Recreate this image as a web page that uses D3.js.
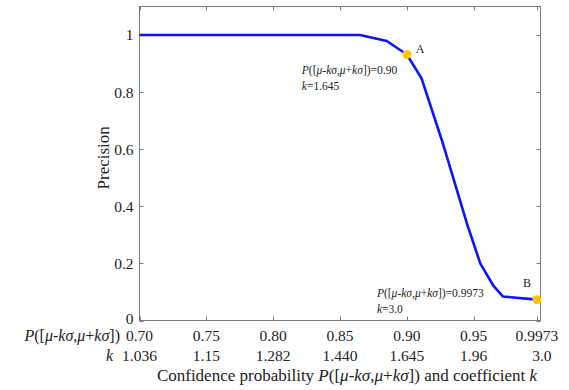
<!DOCTYPE html>
<html>
<head>
<meta charset="utf-8">
<script src="https://cdn.jsdelivr.net/npm/d3@7"></script>
<style>
    body { margin: 0; background: #fff; }
    svg { display: block; font-family: "Liberation Serif", "Times New Roman", serif; }
</style>
</head>
<body>
<svg id="chart" width="569" height="390"></svg>
<script>
// Chart data
const probTicks = [0.70, 0.75, 0.80, 0.85, 0.90, 0.95, 0.9973];
const probLabels = ["0.70", "0.75", "0.80", "0.85", "0.90", "0.95", "0.9973"];
const kLabels = ["1.036", "1.15", "1.282", "1.440", "1.645", "1.96", "3.0"];
const yTicks = [0, 0.2, 0.4, 0.6, 0.8, 1];

const probability = [0.70, 0.75, 0.80, 0.85, 0.865, 0.885, 0.90, 0.911, 0.927, 0.945, 0.955, 0.965, 0.972, 0.9973];
const precision = [1, 1, 1, 1, 1, 0.979, 0.932, 0.848, 0.62, 0.339, 0.199, 0.12, 0.084, 0.073];

const markPoints = [
    { name: "A", p: 0.90, v: 0.932, text: "0.90", k: "1.645" },
    { name: "B", p: 0.9973, v: 0.073, text: "0.9973", k: "3.0" }
];

// italic / upright pieces of P([mu-k sigma, mu+k sigma])
const probExpr = [["P", true], ["([", false], ["μ", true], ["-", false], ["kσ", true], [",", false],
    ["μ", true], ["+", false], ["kσ", true], ["])", false]];

function addRich(sel, parts) {
    parts.forEach(([t, it]) => {
        sel.append("tspan").attr("font-style", it ? "italic" : "normal").text(t);
    });
    return sel;
}

function drawChart() {
    const svg = d3.select("#chart");
    const axisColor = "#7a7a7a";

    const x = d3.scaleLinear().domain([0.7, 1.0]).range([139.5, 540.5]);
    const y = d3.scaleLinear().domain([0, 1.1]).range([320.5, 6.5]);

    const [x0, x1] = x.range();
    const [y0, y1] = y.range();

    // frame
    svg.append("rect")
        .attr("x", x0).attr("y", y1)
        .attr("width", x1 - x0).attr("height", y0 - y1)
        .attr("fill", "none")
        .attr("stroke", axisColor)
        .attr("stroke-width", 1);

    // inward ticks on all four sides
    const tickLen = 4;
    const g = svg.append("g").attr("stroke", axisColor).attr("stroke-width", 1);
    probTicks.forEach(p => {
        const px = Math.round(x(p)) + 0.5;
        g.append("line").attr("x1", px).attr("x2", px).attr("y1", y0).attr("y2", y0 - tickLen);
        g.append("line").attr("x1", px).attr("x2", px).attr("y1", y1).attr("y2", y1 + tickLen);
    });
    yTicks.forEach(v => {
        const py = Math.round(y(v)) + 0.5;
        g.append("line").attr("x1", x0).attr("x2", x0 + tickLen).attr("y1", py).attr("y2", py);
        g.append("line").attr("x1", x1).attr("x2", x1 - tickLen).attr("y1", py).attr("y2", py);
    });

    // y tick labels
    svg.append("g").selectAll("text")
        .data(yTicks)
        .join("text")
        .attr("x", x0 - 6)
        .attr("y", d => y(d))
        .attr("dy", d => d === 0 ? "0.2em" : "0.35em")
        .attr("text-anchor", "end")
        .style("font-size", "15.5px")
        .attr("fill", "#222")
        .text(d => d3.format("")(+d.toFixed(1)));

    // x tick labels, two rows
    const row1 = 341, row2 = 360.5;
    svg.append("g").selectAll("text")
        .data(probTicks)
        .join("text")
        .attr("x", d => x(d))
        .attr("y", row1)
        .attr("text-anchor", "middle")
        .style("font-size", "15.5px")
        .attr("fill", "#222")
        .text((d, i) => probLabels[i]);

    svg.append("g").selectAll("text")
        .data(probTicks)
        .join("text")
        .attr("x", (d, i) => x(d) + (i === probTicks.length - 1 ? 5 : 0))
        .attr("y", row2)
        .attr("text-anchor", "middle")
        .style("font-size", "15.5px")
        .attr("fill", "#222")
        .text((d, i) => kLabels[i]);

    // row names
    addRich(svg.append("text")
        .attr("x", 120).attr("y", row1)
        .attr("text-anchor", "end")
        .style("font-size", "16px")
        .attr("fill", "#222"), probExpr);

    svg.append("text")
        .attr("x", 113).attr("y", row2)
        .attr("text-anchor", "end")
        .style("font-size", "16px")
        .style("font-style", "italic")
        .attr("fill", "#222")
        .text("k");

    // x axis title
    const title = svg.append("text")
        .attr("x", 347).attr("y", 380.5)
        .attr("text-anchor", "middle")
        .style("font-size", "17px")
        .attr("fill", "#222");
    addRich(title, [["Confidence probability ", false]].concat(probExpr, [[" and coefficient ", false], ["k", true]]));

    // y axis title
    svg.append("text")
        .attr("transform", `translate(109,${y(0.57)}) rotate(-90)`)
        .attr("text-anchor", "middle")
        .style("font-size", "17px")
        .attr("fill", "#222")
        .text("Precision");

    // curve
    const pts = probability.map((p, i) => [p, precision[i]]);
    svg.append("path")
        .datum(pts)
        .attr("fill", "none")
        .attr("stroke", "#0a14ff")
        .attr("stroke-width", 2.6)
        .attr("stroke-linejoin", "round")
        .attr("d", d3.line().x(d => x(d[0])).y(d => y(d[1])));

    // marked points
    svg.append("g").selectAll("circle")
        .data(markPoints)
        .join("circle")
        .attr("cx", d => x(d.p))
        .attr("cy", d => y(d.v))
        .attr("r", 4.5)
        .attr("fill", "#ffc20e");

    // annotations
    const notes = [
        { pt: markPoints[0], lx: 9, ly: -6, tx: -105, ty: 16 },
        { pt: markPoints[1], lx: -14, ly: -17, tx: -160, ty: -6.5 }
    ];
    notes.forEach(n => {
        const px = x(n.pt.p), py = y(n.pt.v);
        svg.append("text")
            .attr("x", px + n.lx).attr("y", py + n.ly).attr("dy", "0.35em")
            .style("font-size", "12px").attr("fill", "#222")
            .text(n.pt.name);
        const t1 = svg.append("text")
            .attr("x", px + n.tx).attr("y", py + n.ty).attr("dy", "0.35em")
            .style("font-size", "11.5px").attr("fill", "#222");
        addRich(t1, probExpr.concat([["=" + n.pt.text, false]]));
        const t2 = svg.append("text")
            .attr("x", px + n.tx).attr("y", py + n.ty + 16).attr("dy", "0.35em")
            .style("font-size", "11.5px").attr("fill", "#222");
        addRich(t2, [["k", true], ["=" + n.pt.k, false]]);
    });
}

drawChart();
</script>
</body>
</html>
